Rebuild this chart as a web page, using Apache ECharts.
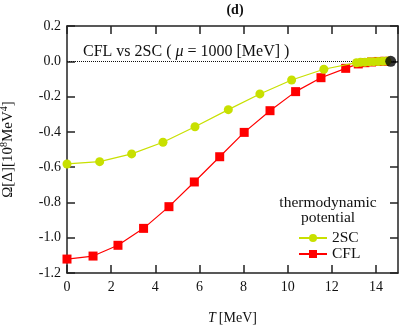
<!DOCTYPE html>
<html>
<head>
<meta charset="utf-8">
<script src="https://cdn.jsdelivr.net/npm/echarts@6/dist/echarts.min.js"></script>
<style>
  html, body { margin: 0; padding: 0; background: #fff; }
  #chart { width: 399px; height: 327px; }
</style>
</head>
<body>
<div id="chart"></div>
<script>
// T [MeV] and Omega values
var tSC = [0, 1.48, 2.93, 4.35, 5.8, 7.31, 8.74, 10.18, 11.64, 13.12, 13.3, 13.5, 13.7, 13.9, 14.1, 14.3, 14.5]
var omegaSC = [-0.582, -0.569, -0.525, -0.459, -0.371, -0.274, -0.185, -0.106, -0.045, -0.008, -0.006, -0.005, -0.003, -0.002, -0.001, 0.0, 0.001]
var tCFL = [0, 1.18, 2.31, 3.47, 4.62, 5.77, 6.92, 8.03, 9.2, 10.36, 11.51, 12.63, 13.2, 13.5, 13.8, 14.1, 14.4]
var omegaCFL = [-1.121, -1.104, -1.043, -0.947, -0.824, -0.684, -0.541, -0.403, -0.28, -0.172, -0.093, -0.04, -0.015, -0.008, -0.004, -0.001, 0.0]
var endPoint = [14.67, 0.0]

var font = 'Liberation Serif'
var pairs = function (xs, ys) { return xs.map(function (x, i) { return [x, ys[i]] }) }

var chart = echarts.init(document.getElementById('chart'))

var axisCommon = {
  axisLine: { show: true, onZero: false, lineStyle: { color: '#222', width: 1.5 } },
  axisTick: { inside: true, length: 8, lineStyle: { color: '#222', width: 1.5 } },
  splitLine: { show: false }
}

chart.setOption({
  animation: false,
  textStyle: { fontFamily: font },
  grid: { left: 67, top: 26, width: 331, height: 247, outerBoundsMode: 'none', containLabel: false },
  graphic: [
    { type: 'text', x: 235, y: 3, style: { text: '(d)', font: 'bold 14px ' + font, fill: '#111', textAlign: 'center' } },
    { type: 'text', x: 83, y: 44, style: {
      rich: {
        n: { fontFamily: font, fontSize: 16, fill: '#111' },
        i: { fontFamily: font, fontSize: 16, fontStyle: 'italic', fill: '#111' }
      },
      text: '{n|CFL vs 2SC ( }{i|μ}{n| = 1000 [MeV] )}'
    } },
    { type: 'text', x: 328, y: 195, style: { text: 'thermodynamic', font: '15.5px ' + font, fill: '#111', textAlign: 'center' } },
    { type: 'text', x: 328, y: 210, style: { text: 'potential', font: '15.5px ' + font, fill: '#111', textAlign: 'center' } }
  ],
  legend: {
    orient: 'vertical',
    left: 293,
    top: 225,
    itemWidth: 28,
    itemHeight: 10,
    itemGap: 0,
    textStyle: { fontFamily: font, fontSize: 15.5, lineHeight: 16, color: '#111' },
    data: ['2SC', 'CFL']
  },
  xAxis: [
    Object.assign({}, axisCommon, {
      type: 'value', min: 0, max: 15, interval: 2,
      name: '{i|T} {n|[MeV]}', nameLocation: 'middle', nameGap: 38,
      nameTextStyle: { rich: {
        i: { fontFamily: font, fontSize: 14, fontStyle: 'italic', color: '#111' },
        n: { fontFamily: font, fontSize: 14, color: '#111' }
      } },
      axisLabel: { fontFamily: font, fontSize: 14, color: '#111', margin: 7, showMaxLabel: false }
    }),
    Object.assign({}, axisCommon, {
      type: 'value', min: 0, max: 15, interval: 2, position: 'top',
      axisLabel: { show: false }
    })
  ],
  yAxis: [
    Object.assign({}, axisCommon, {
      type: 'value', min: -1.2, max: 0.2, interval: 0.2,
      name: '{n|Ω[Δ][10}{s|8}{n|MeV}{s|4}{n|]}', nameLocation: 'middle', nameGap: 50,
      nameTextStyle: { rich: {
        n: { fontFamily: font, fontSize: 15, color: '#111' },
        s: { fontFamily: font, fontSize: 10, color: '#111', verticalAlign: 'bottom', padding: [0, 0, 8, 0] }
      } },
      axisLabel: { fontFamily: font, fontSize: 14, color: '#111', margin: 6, formatter: function (v) { return v.toFixed(1) } }
    }),
    Object.assign({}, axisCommon, {
      type: 'value', min: -1.2, max: 0.2, interval: 0.2, position: 'right',
      axisLabel: { show: false }
    })
  ],
  series: [
    {
      name: 'CFL', type: 'line', data: pairs(tCFL, omegaCFL), z: 3,
      symbol: 'rect', symbolSize: 9,
      itemStyle: { color: '#ff0000' }, lineStyle: { color: '#ff0000', width: 1.2 },
      markLine: {
        silent: true, symbol: 'none', label: { show: false }, z: 1,
        lineStyle: { color: '#111', type: 'dotted', width: 1 },
        data: [{ yAxis: 0 }]
      }
    },
    {
      name: '2SC', type: 'line', data: pairs(tSC, omegaSC), z: 4,
      symbol: 'circle', symbolSize: 9,
      itemStyle: { color: '#c8e000' }, lineStyle: { color: '#c8e000', width: 1.2 }
    },
    {
      name: 'end', type: 'scatter', data: [endPoint],
      symbol: 'circle', symbolSize: 11, itemStyle: { color: '#000' }, z: 5
    }
  ]
})
</script>
</body>
</html>
